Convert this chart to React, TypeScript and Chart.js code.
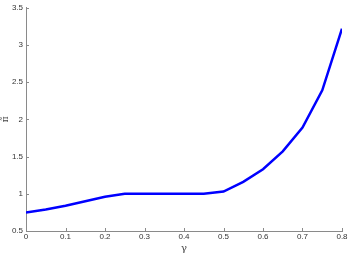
import React, { useEffect, useRef } from "react";
import { Chart, registerables } from "chart.js";
Chart.register(...registerables);

const gammaValues = [0, 0.05, 0.1, 0.15, 0.2, 0.25, 0.3, 0.35, 0.4, 0.45, 0.5, 0.55, 0.6, 0.65, 0.7, 0.75, 0.8];
const piValues = [0.75, 0.79, 0.84, 0.9, 0.96, 1.0, 1.0, 1.0, 1.0, 1.0, 1.03, 1.16, 1.33, 1.57, 1.89, 2.39, 3.22];
const xTickLabels = ["0", "0.1", "0.2", "0.3", "0.4", "0.5", "0.6", "0.7", "0.8"];
const yTickLabels = ["0.5", "1", "1.5", "2", "2.5", "3", "3.5"];
const xTitle = "γ";
const yTitle = "π̃";

const axisColor = "#8a8a8a";

const inwardTicks = {
  id: "inwardTicks",
  afterDraw(chart: any) {
    const { ctx, chartArea, scales } = chart;
    ctx.save();
    ctx.strokeStyle = axisColor;
    ctx.lineWidth = 1;
    const xs = scales.x;
    xs.ticks.forEach((t: any) => {
      const px = Math.round(xs.getPixelForValue(t.value)) + 0.5;
      ctx.beginPath();
      ctx.moveTo(px, chartArea.bottom);
      ctx.lineTo(px, chartArea.bottom - 3);
      ctx.stroke();
    });
    const ys = scales.y;
    ys.ticks.forEach((t: any) => {
      const py = Math.round(ys.getPixelForValue(t.value)) + 0.5;
      ctx.beginPath();
      ctx.moveTo(chartArea.left, py);
      ctx.lineTo(chartArea.left + 3, py);
      ctx.stroke();
    });
    ctx.restore();
  },
};

export default function App() {
  const ref = useRef<HTMLCanvasElement | null>(null);
  useEffect(() => {
    if (!ref.current) return;
    const chart = new Chart(ref.current, {
      type: "line",
      data: {
        datasets: [
          {
            data: gammaValues.map((g, i) => ({ x: g, y: piValues[i] })),
            borderColor: "#0000ff",
            borderWidth: 2.5,
            pointRadius: 0,
            tension: 0,
            fill: false,
          },
        ],
      },
      options: {
        animation: false,
        responsive: false,
        maintainAspectRatio: false,
        layout: { padding: { top: 6, right: 21, left: 0, bottom: 0 } },
        plugins: { legend: { display: false }, tooltip: { enabled: false } },
        scales: {
          x: {
            type: "linear",
            min: 0,
            max: 0.8,
            afterFit: (s: any) => { s.height = 23; },
            afterBuildTicks: (s: any) => {
              s.ticks = xTickLabels.map((l) => ({ value: parseFloat(l), label: l }));
            },
            ticks: {
              autoSkip: false,
              maxRotation: 0,
              padding: 1,
              color: "#333",
              font: { family: "Liberation Sans", size: 8 },
              callback: (v: any) => xTickLabels.find((l) => parseFloat(l) === v) ?? "",
            },
            grid: { drawOnChartArea: false, drawTicks: false, color: axisColor },
            border: { color: axisColor, width: 1 },
            title: {
              display: true,
              text: xTitle,
              color: "#444",
              font: { family: "DejaVu Serif", size: 10 },
              padding: { top: 0, bottom: 0 },
            },
          },
          y: {
            type: "linear",
            min: 0.5,
            max: 3.5,
            afterFit: (s: any) => { s.width = 26; },
            afterBuildTicks: (s: any) => {
              s.ticks = yTickLabels.map((l) => ({ value: parseFloat(l), label: l }));
            },
            ticks: {
              autoSkip: false,
              padding: 3,
              color: "#333",
              font: { family: "Liberation Sans", size: 8 },
              callback: (v: any) => yTickLabels.find((l) => parseFloat(l) === v) ?? "",
            },
            grid: { drawOnChartArea: false, drawTicks: false, color: axisColor },
            border: { color: axisColor, width: 1 },
            title: {
              display: true,
              text: yTitle,
              color: "#444",
              font: { family: "DejaVu Serif", size: 9 },
              padding: { top: 0, bottom: 0 },
            },
          },
        },
      },
      plugins: [inwardTicks],
    } as any);
    return () => chart.destroy();
  }, []);
  return (
    <div style={{ position: "absolute", left: 0, top: 0, width: 363, height: 254, background: "#fff" }}>
      <canvas ref={ref} width={363} height={254} style={{ width: 363, height: 254, display: "block" }} />
    </div>
  );
}
